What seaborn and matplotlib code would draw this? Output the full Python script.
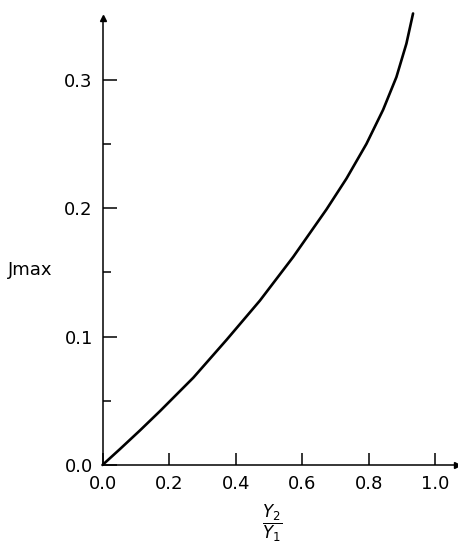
import numpy as np
import pandas as pd
import seaborn as sns
import matplotlib.pyplot as plt
from matplotlib.ticker import MultipleLocator

# values
ratio = [0.0, 0.053, 0.113, 0.173, 0.273, 0.373, 0.473, 0.573, 0.673,
         0.733, 0.793, 0.843, 0.883, 0.913, 0.933]
jmax = [0.0, 0.0125, 0.027, 0.042, 0.068, 0.0975, 0.128, 0.162, 0.199,
        0.223, 0.250, 0.2765, 0.302, 0.328, 0.3515]
x_ticks = [0.0, 0.2, 0.4, 0.6, 0.8, 1.0]
x_labels = ['0.0', '0.2', '0.4', '0.6', '0.8', '1.0']
y_ticks = [0.0, 0.1, 0.2, 0.3]
y_labels = ['0.0', '0.1', '0.2', '0.3']

df = pd.DataFrame({'ratio': ratio, 'Jmax': jmax})

sns.set_style('ticks')
plt.rcParams['font.family'] = ['DejaVu Sans']
plt.rcParams['text.color'] = 'black'
plt.rcParams['axes.labelcolor'] = 'black'
plt.rcParams['xtick.labelcolor'] = 'black'
plt.rcParams['ytick.labelcolor'] = 'black'

fig = plt.figure(figsize=(4.58, 5.46), dpi=100)
ax = fig.add_axes([0.2238, 0.1484, 0.774, 0.8187])

sns.lineplot(data=df, x='ratio', y='Jmax', ax=ax, color='black', linewidth=1.9,
             estimator=None, sort=False, clip_on=False)

ax.set_xlim(0, 1.065)
ax.set_ylim(0, 0.348)

for s in ['top', 'right']:
    ax.spines[s].set_visible(False)
for s in ['left', 'bottom']:
    ax.spines[s].set_linewidth(1.1)
    ax.spines[s].set_color('black')

# arrow heads at the axis ends
ax.plot(1, 0, marker='>', color='black', markersize=4, transform=ax.transAxes, clip_on=False)
ax.plot(0, 1, marker='^', color='black', markersize=4, transform=ax.transAxes, clip_on=False)

ax.set_xticks(x_ticks)
ax.set_xticklabels(x_labels)
ax.set_yticks(y_ticks)
ax.set_yticklabels(y_labels)
ax.yaxis.set_minor_locator(MultipleLocator(0.05))

ax.tick_params(axis='x', direction='in', length=9, width=1.1, pad=7, labelsize=13, color='black')
ax.tick_params(axis='y', which='major', direction='in', length=10, width=1.1, pad=7, labelsize=13, color='black')
ax.tick_params(axis='y', which='minor', direction='in', length=6, width=1.1, color='black')

ax.set_ylabel('Jmax', rotation=0, fontsize=13, ha='right', va='center')
ax.yaxis.set_label_coords(-0.14, 0.436)
ax.set_xlabel('')
ax.text(0.477, -0.13, r'$\dfrac{Y_2}{Y_1}$', transform=ax.transAxes,
        ha='center', va='center', fontsize=12)

fig.savefig('out.png', dpi=100)
